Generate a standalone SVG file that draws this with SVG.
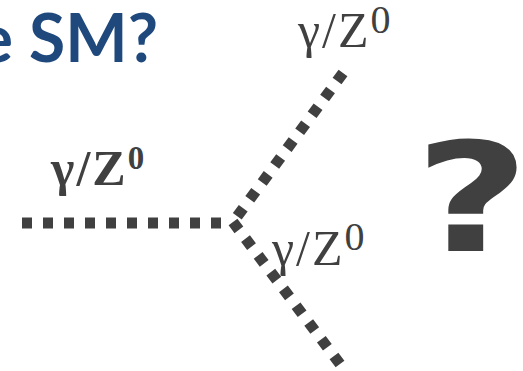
<svg xmlns="http://www.w3.org/2000/svg" width="523" height="371" viewBox="0 0 523 371">
<style>
.title{font-family:"Lato","Open Sans",sans-serif;font-weight:bold;font-size:66px;fill:#1F497D}
.lbl{font-family:"Liberation Serif","Times New Roman",serif;fill:#404040;letter-spacing:2px}
.prop{fill:none;stroke:#404040;stroke-width:11;stroke-dasharray:10 11}
.q{font-family:"DejaVu Sans",sans-serif;font-weight:bold;font-size:152px;fill:#404040}
</style>
<rect width="523" height="371" fill="#fff"/>
<g id="title"><text class="title" x="158" y="62" text-anchor="end">e SM?</text></g>
<g id="connectors">
<line class="prop" x1="22" y1="223" x2="229" y2="223"/>
<line class="prop" x1="343" y1="73" x2="233" y2="222"/>
<line class="prop" x1="340" y1="364" x2="233" y2="222"/>
</g>
<g id="label-in"><text class="lbl" x="51" y="185" font-size="50" font-weight="bold">γ/Z<tspan y="169" font-size="33">0</tspan></text></g>
<g id="label-out1"><text class="lbl" x="298" y="47" font-size="50">γ/Z<tspan y="33" font-size="40">0</tspan></text></g>
<g id="label-out2"><text class="lbl" x="272" y="265" font-size="50">γ/Z<tspan y="250" font-size="40">0</tspan></text></g>
<g id="question"><text class="q" transform="translate(472,0) scale(1.3,1)" x="0" y="251" text-anchor="middle">?</text></g>
</svg>
